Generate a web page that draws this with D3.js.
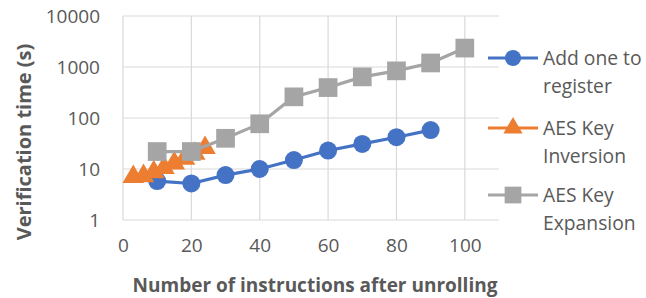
<!DOCTYPE html>
<html>
<head>
<meta charset="utf-8">
<script src="https://cdn.jsdelivr.net/npm/d3@7"></script>
<style>
  body { margin: 0; background: #fff; }
  svg { display: block; font-family: "Open Sans", sans-serif; }
</style>
</head>
<body>
<svg id="chart" width="646" height="298"></svg>
<script>
// values
const addOneX = [10, 20, 30, 40, 50, 60, 70, 80, 90];
const addOneY = [5.8, 5.2, 7.6, 10, 15, 23, 31, 42, 58];
const invX = [3, 6, 9, 12, 15, 18, 21, 24];
const invY = [7, 7.3, 8.7, 10.5, 13, 16, 20, 26];
const expX = [10, 20, 30, 40, 50, 60, 70, 80, 90, 100];
const expY = [22, 22, 40, 77, 260, 395, 640, 840, 1200, 2350];
const xTicks = [0, 20, 40, 60, 80, 100];
const yTicks = [1, 10, 100, 1000, 10000];
const seriesNames = [["Add one to", "register"], ["AES Key", "Inversion"], ["AES Key", "Expansion"]];

const svg = d3.select("#chart");
const plotL = 123, plotR = 499, plotT = 16, plotB = 220;
const textCol = "#595959", gridCol = "#d9d9d9";

const x = d3.scaleLinear().domain([0, 110]).range([plotL, plotR]);
const y = d3.scaleLog().domain([1, 10000]).range([plotB, plotT]);

// grid
svg.append("g").selectAll("line").data(yTicks).enter().append("line")
  .attr("x1", plotL).attr("x2", plotR)
  .attr("y1", d => y(d)).attr("y2", d => y(d))
  .attr("stroke", gridCol).attr("stroke-width", 1.2);
svg.append("g").selectAll("line").data(xTicks).enter().append("line")
  .attr("x1", d => x(d)).attr("x2", d => x(d))
  .attr("y1", plotT).attr("y2", plotB)
  .attr("stroke", gridCol).attr("stroke-width", 1.2);

// tick labels via axes, domain/ticks hidden
const xAxis = svg.append("g").attr("transform", `translate(0,${plotB})`)
  .call(d3.axisBottom(x).tickValues(xTicks).tickSize(0).tickPadding(19));
const yAxis = svg.append("g").attr("transform", `translate(${plotL},0)`)
  .call(d3.axisLeft(y).tickValues(yTicks).tickFormat(d3.format("d")).tickSize(0).tickPadding(23));
[xAxis, yAxis].forEach(a => {
  a.select(".domain").remove();
  a.selectAll("text").attr("fill", textCol).style("font-size", "19px")
    .style("font-family", "'Open Sans', sans-serif");
});

// series
const series = [
  { xs: addOneX, ys: addOneY, color: "#4472C4", shape: d3.symbolCircle, size: 255 },
  { xs: invX, ys: invY, color: "#ED7D31", shape: d3.symbolTriangle, size: 200 },
  { xs: expX, ys: expY, color: "#A5A5A5", shape: d3.symbolSquare, size: 350 }
];
const line = d3.line().x(d => x(d[0])).y(d => y(d[1]));

series.forEach(s => {
  const pts = s.xs.map((v, i) => [v, s.ys[i]]);
  const g = svg.append("g");
  g.append("path").datum(pts).attr("d", line)
    .attr("fill", "none").attr("stroke", s.color).attr("stroke-width", 3.2)
    .attr("stroke-linejoin", "round");
  g.selectAll("path.m").data(pts).enter().append("path").attr("class", "m")
    .attr("d", d3.symbol().type(s.shape).size(s.size))
    .attr("transform", d => `translate(${x(d[0])},${y(d[1])})`)
    .attr("fill", s.color);
});

// legend
const legY = [58, 128, 195];
const leg = svg.append("g");
series.forEach((s, i) => {
  const gy = legY[i];
  leg.append("line").attr("x1", 488).attr("x2", 538).attr("y1", gy).attr("y2", gy)
    .attr("stroke", s.color).attr("stroke-width", 3.2);
  leg.append("path").attr("d", d3.symbol().type(s.shape).size(s.size * 0.8))
    .attr("transform", `translate(513,${gy})`).attr("fill", s.color);
  seriesNames[i].forEach((t, j) => {
    leg.append("text").attr("x", 543).attr("y", gy + j * 28)
      .attr("dy", "0.35em").attr("fill", textCol).style("font-size", "19.3px").text(t);
  });
});

// axis titles
svg.append("text").attr("x", 315).attr("y", 292).attr("text-anchor", "middle")
  .attr("fill", textCol).style("font-size", "19px").style("font-weight", "bold")
  .text("Number of instructions after unrolling");
svg.append("text").attr("transform", "translate(24,142) rotate(-90)")
  .attr("text-anchor", "middle").attr("dy", "0.35em")
  .attr("fill", textCol).style("font-size", "20px").style("font-weight", "bold")
  .text("Verification time (s)");
</script>
</body>
</html>
